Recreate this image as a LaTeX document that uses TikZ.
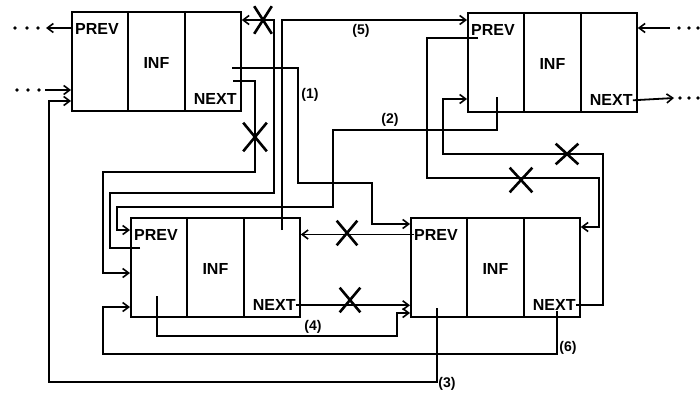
\documentclass[tikz,border=0pt]{standalone}
\usepackage{fontspec}
\setmainfont{Liberation Sans}
\usetikzlibrary{arrows.meta,shapes.misc,calc}
\begin{document}
\begin{tikzpicture}[x=1pt,y=-1pt,
  box/.style={draw, line width=1.8pt, minimum width=169pt, minimum height=99pt, inner sep=0pt, anchor=north west},
  lbl/.style={font=\bfseries\fontsize{16}{16}\selectfont, inner sep=0pt},
  num/.style={font=\bfseries\fontsize{14}{14}\selectfont, inner sep=0pt},
  wire/.style={line width=1.8pt},
  arr/.style={wire, -{Straight Barb[length=6pt,width=9pt,line width=1.6pt]}},
  xmark/.style={draw, cross out, line width=2.6pt, inner sep=0pt},
  dotm/.style={circle, fill, inner sep=0pt, minimum size=3.6pt}]
\useasboundingbox[fill=white] (0,0) rectangle (700,396);

% boxes
\foreach \n/\x/\y in {A/71/11, B/467/12, C/130/217, D/410/217}{
  \node[box] (\n) at (\x,\y) {};
  \draw[wire] ($(\n.north west)!1/3!(\n.north east)$) -- ($(\n.south west)!1/3!(\n.south east)$);
  \draw[wire] ($(\n.north west)!2/3!(\n.north east)$) -- ($(\n.south west)!2/3!(\n.south east)$);
  \node[lbl, anchor=west] (\n p) at ([xshift=4pt,yshift=-17.5pt]\n.north west) {PREV};
  \node[lbl] (\n i) at ([yshift=-2pt]\n.center) {INF};
  \node[lbl, anchor=east] (\n n) at ([xshift=-5pt,yshift=12.5pt]\n.south east) {NEXT};
}

% outer pointers of A
\draw[arr] ([yshift=-17pt]A.north west) -- (46,28);
\node[dotm] (da1) at (15,28) {}; \node[dotm] (da2) at (27,28) {}; \node[dotm] (da3) at (38,28) {};
\draw[arr] (45,90) -- ([yshift=-79pt]A.north west);
\node[dotm] (db1) at (17,90) {}; \node[dotm] (db2) at (28,90) {}; \node[dotm] (db3) at (39,90) {};

% outer pointers of B
\draw[arr] (670,28) -- ([yshift=-16pt]B.north east);
\node[dotm] (dc1) at (679,28) {}; \node[dotm] (dc2) at (689,28) {}; \node[dotm] (dc3) at (698,28) {};
\draw[arr] (Bn.east) -- (674,98);
\node[dotm] (dd1) at (680,98) {}; \node[dotm] (dd2) at (689,98) {}; \node[dotm] (dd3) at (698,98) {};

% C.PREV -> A (crossed)
\coordinate (c1s) at (140,248);
\draw[arr] (c1s) -- (110,248) -- (110,193) -- (274,193) -- (274,20) -- ([yshift=-9pt]A.north east);
% A.NEXT -> C (crossed)
\coordinate (c2s) at (233,81);
\draw[arr] (c2s) -- (255,81) -- (255,172) -- (103,172) -- (103,273) -- ([yshift=-56pt]C.north west);
% (1) A.NEXT -> D
\coordinate (c3s) at (232,68);
\draw[arr] (c3s) -- (298,68) -- (298,183) -- (372,183) -- (372,224) -- ([yshift=-7pt]D.north west);
% (2) B.PREV -> C
\coordinate (c4s) at (497,97);
\draw[arr] (c4s) -- (497,130) -- (333,130) -- (333,207) -- (117,207) -- (117,230) -- ([yshift=-13pt]C.north west);
% (5) C.NEXT -> B
\coordinate (c5s) at (282,230);
\draw[arr] (c5s) -- (282,20) -- ([yshift=-8pt]B.north west);
% (6) D.NEXT -> C
\coordinate (c6s) at (557,311);
\draw[arr] (c6s) -- (557,354) -- (103,354) -- (103,307) -- ([yshift=-90pt]C.north west);
% C.NEXT -> D (crossed)
\draw[arr] (Cn.east) -- (Cn.east -| D.west);
% (4) C.PREV -> D
\coordinate (c8s) at (157,296);
\draw[arr] (c8s) -- (157,336) -- (397,336) -- (397,313) -- ([yshift=-96pt]D.north west);
% D.PREV -> C (crossed)
\draw[arr] (Dp.west) -- (Dp.west -| C.east);
% (3) D.PREV -> A
\coordinate (c10s) at (437,308);
\draw[arr] (c10s) -- (437,382) -- (49,382) -- (49,101) -- ([yshift=-90pt]A.north west);
% D.NEXT -> B (crossed)
\draw[arr] (Dn.east) -| (603,154) -- (443,154) -- (443,99) -- ([yshift=-87pt]B.north west);
% B.PREV -> D (crossed)
\coordinate (c12s) at (478,38);
\draw[arr] (c12s) -- (427,38) -- (427,178) -- (599,178) -- (599,227) -- ([yshift=-10pt]D.north east);

% crosses
\node[xmark, minimum width=15pt, minimum height=25pt] (x1) at (263,20) {};
\node[xmark, minimum width=21pt, minimum height=26pt] (x2) at (255,137) {};
\node[xmark, minimum width=20pt, minimum height=18pt] (x3) at (567,154) {};
\node[xmark, minimum width=20pt, minimum height=22pt] (x4) at (521,180) {};
\node[xmark, minimum width=18pt, minimum height=22pt] (x5) at (347,233) {};
\node[xmark, minimum width=18pt, minimum height=22pt] (x6) at (350,300) {};

% labels
\node[num] (l1) at (310,95) {(1)};
\node[num] (l2) at (390,120) {(2)};
\node[num] (l5) at (361,31) {(5)};
\node[num] (l4) at (313,327) {(4)};
\node[num] (l6) at (568,348) {(6)};
\node[num] (l3) at (447,384) {(3)};
\end{tikzpicture}
\end{document}
